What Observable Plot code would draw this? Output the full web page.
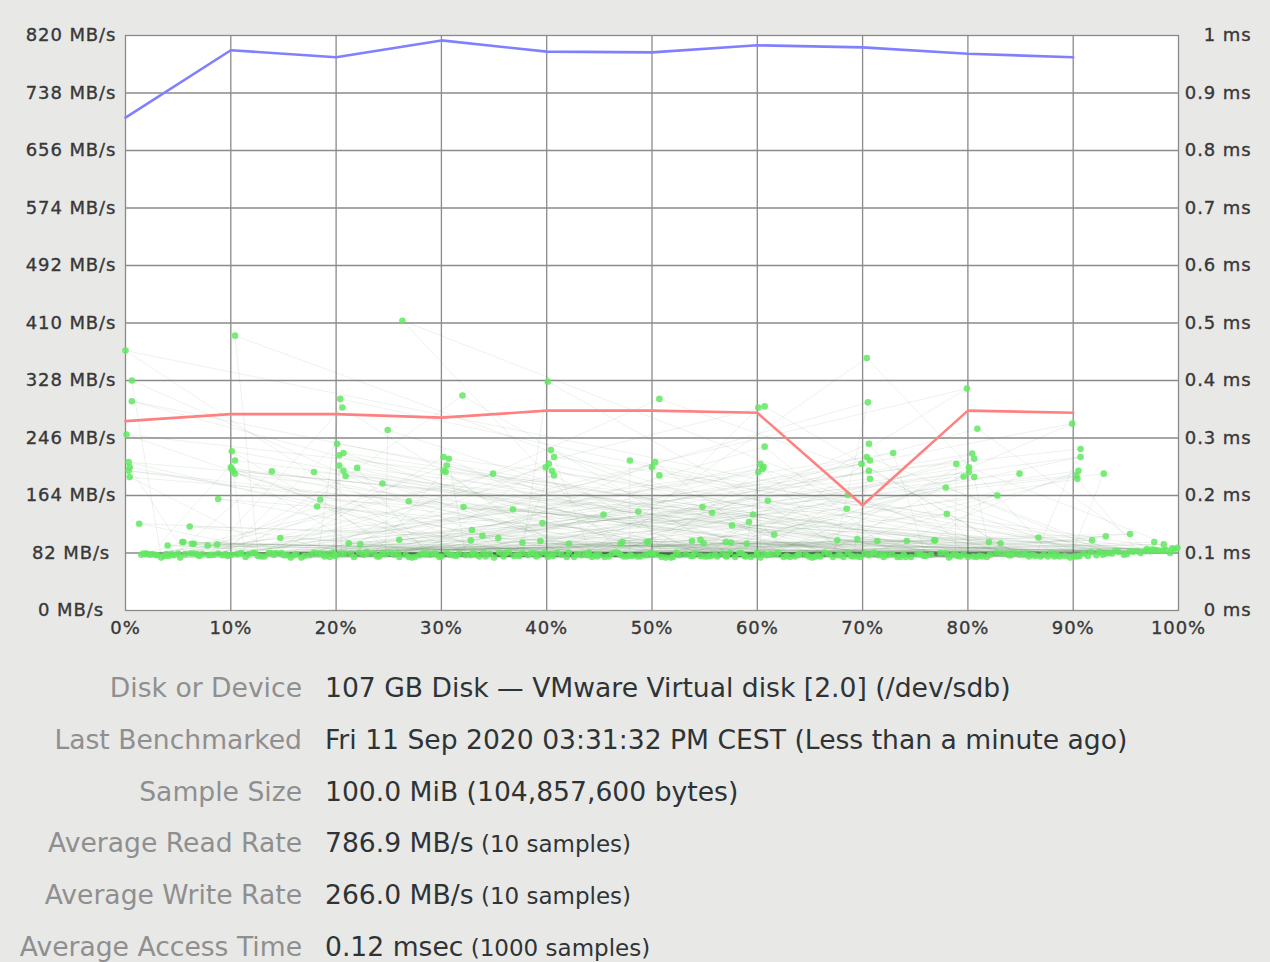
<!DOCTYPE html>
<html><head><meta charset="utf-8">
<script src="https://cdn.jsdelivr.net/npm/d3@7"></script>
<script src="https://cdn.jsdelivr.net/npm/@observablehq/plot@0.6"></script>
<style>
html,body{margin:0;padding:0;background:#e8e8e7;width:1270px;height:962px;overflow:hidden;}
#chart{position:absolute;left:0;top:0;}
#chart text{letter-spacing:0.9px;}
.row{position:absolute;left:0;width:1270px;height:52px;line-height:52px;font-family:"DejaVu Sans",sans-serif;white-space:nowrap;}
.lab{position:absolute;right:968px;color:#8f8f8f;font-size:26.6px;}
.val{position:absolute;left:325px;color:#2e3436;font-size:26.6px;}
.small{font-size:23px;}
</style></head>
<body>
<div id="chart"></div>
<div id="info"></div>
<script>
// ---- data ----
const offsets = [0,10,20,30,40,50,60,70,80,90];            // % of disk
const readRate  = [703,799,789,813,797,796,806,803,794,789]; // MB/s
const writeRate = [270,280,280,275,285,285,282,150,285,282]; // MB/s

const leftTicks = [0,82,164,246,328,410,492,574,656,738,820]; // MB/s
const rightTicks = [0,0.1,0.2,0.3,0.4,0.5,0.6,0.7,0.8,0.9,1]; // ms
const xTicks = [0,10,20,30,40,50,60,70,80,90,100];

// access-time samples that sit in the main band (position %, ms)
const bandPct = [
1.5,47.3,83.2,12.6,66.4,29.8,95.1,38.2,3.4,71.9,
55.6,18.3,88.7,42.1,7.9,62.5,24.7,99.2,33.6,77.4,
9.2,51.8,86.1,20.5,68.9,36.4,97.3,44.8,5.7,74.6,
58.3,15.1,91.4,27.2,64.0,2.3,80.5,49.9,31.1,93.7,
11.4,70.2,40.6,85.3,22.9,57.1,4.6,96.4,35.0,61.8,
19.7,79.0,45.5,8.4,67.7,28.6,90.1,53.2,13.8,75.8,
39.3,98.5,26.0,59.9,6.2,82.7,48.1,16.7,72.8,34.2,
94.3,52.6,21.4,87.6,43.7,1.9,65.2,30.5,81.1,57.9,
10.6,69.5,37.7,92.8,17.5,60.3,46.2,4.1,84.4,25.5,
73.3,50.4,14.3,96.9,32.3,63.6,8.8,78.2,41.4,89.2,
23.6,56.2,2.8,71.1,44.3,99.6,27.9,66.8,12.1,86.9,
36.9,54.1,6.8,81.8,19.1,47.9,93.1,30.0,62.0,15.7,
76.5,40.1,97.8,23.0,58.8,3.9,85.8,49.3,11.0,68.2,
33.0,90.6,45.0,7.3,74.1,28.2,60.9,18.9,95.7,51.3,
13.2,79.6,38.8,65.7,2.0,87.2,42.6,22.2,70.6,55.0,
98.1,26.6,63.1,9.7,83.7,35.5,48.6,16.2,92.2,58.5,
5.2,73.9,31.7,88.2,44.0,20.0,67.2,53.7,14.8,97.0,
37.2,61.3,24.1,80.0,46.8,10.1,76.0,29.3,94.8,41.9,
57.4,17.0,84.9,34.6,69.1,3.0,91.0,50.9,25.9,63.9,
12.9,78.8,43.3,99.9,21.7,56.7,7.0,82.1,39.8,66.0,
28.9,93.4,52.0,15.4,75.2,35.9,60.0,1.7,86.4,47.0,
19.4,70.9,32.8,96.1,45.9,11.7,64.6,24.4,89.7,54.6,
6.5,81.4,40.4,72.3,17.9,59.4,30.8,98.8,48.9,13.6,
67.9,27.5,85.5,37.4,4.4,77.9,55.3,22.6,92.5,44.6,
9.5,62.8,34.0,79.3,50.1,18.6,95.4,26.9,71.5,41.0,
58.9,14.1,87.9,31.4,65.4,2.5,83.9,46.5,20.8,99.4,
36.1,73.6,8.1,53.9,28.4,90.4,42.9,16.0,68.6,61.1,
97.5,23.9,49.6,5.0,80.8,33.3,57.0,12.3,75.5,39.0,
88.4,52.3,19.9,64.9,29.5,94.0,43.9,10.9,72.0,56.0,
3.7,84.1,38.5,69.8,25.2,91.7,47.6,15.0,78.5,60.6];
const bandMs = [
.097,.094,.099,.095,.101,.093,.098,.096,.092,.097,
.095,.099,.094,.101,.096,.093,.098,.100,.094,.100,
.096,.092,.097,.099,.095,.101,.103,.094,.098,.093,
.100,.096,.095,.092,.098,.097,.094,.101,.096,.099,
.093,.099,.095,.097,.102,.094,.096,.100,.092,.098,
.101,.095,.093,.097,.096,.099,.094,.098,.100,.095,
.097,.104,.093,.096,.099,.101,.095,.092,.098,.094,
.102,.096,.099,.094,.097,.098,.092,.101,.095,.093,
.098,.094,.100,.097,.096,.092,.099,.095,.101,.097,
.093,.098,.100,.103,.096,.094,.099,.092,.097,.095,
.099,.094,.097,.101,.093,.106,.096,.098,.100,.094,
.095,.100,.098,.093,.097,.096,.099,.094,.101,.092,
.097,.093,.105,.099,.095,.098,.094,.096,.100,.093,
.101,.095,.097,.098,.093,.099,.096,.094,.102,.092,
.094,.098,.100,.095,.099,.097,.093,.101,.096,.094,
.104,.097,.093,.095,.099,.101,.094,.098,.096,.100,
.092,.097,.099,.094,.101,.096,.093,.095,.100,.107,
.096,.098,.094,.093,.100,.097,.095,.099,.097,.093,
.101,.095,.097,.098,.094,.096,.099,.093,.100,.097,
.094,.098,.096,.109,.093,.099,.095,.097,.101,.094,
.097,.100,.093,.096,.098,.094,.101,.099,.095,.097,
.093,.099,.096,.103,.094,.098,.097,.100,.092,.095,
.099,.094,.098,.096,.101,.093,.097,.105,.094,.100,
.096,.093,.099,.095,.098,.100,.094,.097,.102,.096,
.098,.095,.101,.094,.097,.099,.103,.093,.096,.100,
.094,.097,.100,.095,.093,.098,.096,.101,.099,.108,
.100,.093,.097,.095,.099,.094,.098,.096,.101,.097,
.106,.094,.096,.099,.093,.097,.095,.100,.098,.094,
.097,.101,.095,.094,.098,.104,.096,.099,.093,.097,
.095,.096,.099,.093,.100,.102,.094,.097,.096,.098];

// access-time samples above the band (position %, ms)
const outPct = [
26.3,10.4,0.0,0.6,0.6,20.4,20.6,24.9,0.1,20.1,20.7,20.3,0.3,0.4,0.3,0.4,
10.1,10.4,10.0,10.2,10.4,10.1,13.9,17.9,20.3,20.7,20.9,22.0,24.4,8.8,18.5,18.2,
26.9,1.3,6.1,14.7,26.0,5.4,6.5,32.0,40.1,50.7,60.1,60.7,60.7,30.2,30.7,30.5,
30.4,30.2,34.9,40.4,40.7,39.9,40.5,40.7,40.2,47.9,50.3,50.0,50.7,60.3,60.5,60.1,
60.6,32.1,36.8,39.6,45.4,48.7,54.8,55.7,61.0,57.6,59.2,59.6,61.6,32.9,33.9,35.4,
32.8,70.4,70.5,79.9,80.9,89.9,70.6,72.9,70.4,70.7,69.9,70.6,70.7,80.4,80.6,78.9,
80.1,79.6,80.6,80.1,77.9,84.9,82.8,90.7,90.7,90.5,90.4,90.3,92.9,68.5,78.0,95.4,
68.6,69.5,71.4,74.2,76.8,67.6,54.6,49.5,47.0,57.0,59.0,4.0,5.5,6.3,7.8,8.7,
21.2,22.3,93.1,91.8,86.7,76.9,97.7,98.6,82.0,83.1,37.7,39.4,42.1,47.2,49.7,53.8,
54.9,57.5];
const outMs = [
.504,.478,.452,.400,.364,.368,.353,.314,.306,.290,.274,.270,.258,.249,.243,.232,
.277,.261,.249,.243,.238,.246,.242,.241,.252,.243,.234,.248,.221,.194,.193,.181,
.190,.151,.146,.126,.123,.119,.116,.374,.398,.368,.353,.355,.285,.267,.264,.252,
.241,.243,.238,.279,.267,.249,.243,.235,.255,.261,.258,.249,.235,.255,.246,.241,
.250,.180,.176,.152,.167,.172,.180,.170,.191,.148,.154,.167,.132,.140,.130,.126,
.122,.439,.362,.386,.316,.325,.290,.274,.267,.261,.255,.243,.229,.273,.264,.255,
.249,.233,.232,.241,.214,.238,.200,.281,.267,.243,.229,.235,.238,.177,.168,.133,
.201,.124,.121,.121,.122,.122,.123,.119,.116,.119,.116,.113,.119,.116,.113,.115,
.117,.115,.129,.122,.127,.122,.119,.115,.119,.117,.118,.121,.116,.119,.120,.121,
.117,.118];

// ---- build tables ----
const scaleMs = 820; // 1 ms on the right axis == 820 MB/s on the left axis
const rw = offsets.map((o,i)=>({o, read: readRate[i], write: writeRate[i]}));
const samples = [];
let oi = 0;
for (let i = 0; i < bandPct.length; i++) {
  samples.push({pct: bandPct[i], ms: bandMs[i]});
  if (i % 2 === 1 && oi < outPct.length) { samples.push({pct: outPct[oi], ms: outMs[oi]}); oi++; }
}
while (oi < outPct.length) { samples.push({pct: outPct[oi], ms: outMs[oi]}); oi++; }

const grid = "#8a8a8a";
const txt = "#383838";
const chart = Plot.plot({
  width: 1270, height: 645,
  marginLeft: 125, marginRight: 92, marginTop: 35, marginBottom: 35,
  x: {domain: [0,100], axis: null},
  y: {domain: [0,820], axis: null},
  style: {background: "transparent", fontFamily: "DejaVu Sans, sans-serif", fontSize: "18px", color: txt},
  marks: [
    Plot.frame({fill: "white", stroke: null}),
    Plot.gridX(xTicks.slice(1,-1), {stroke: grid, strokeOpacity: 1, strokeWidth: 1.3}),
    Plot.gridY(leftTicks.slice(1,-1), {stroke: grid, strokeOpacity: 1, strokeWidth: 1.3}),
    Plot.frame({stroke: grid, strokeWidth: 1.3}),
    Plot.line(samples, {x: "pct", y: d => d.ms*scaleMs, stroke: "#3d6b3d", strokeOpacity: 0.09, strokeWidth: 1}),
    Plot.dot(samples, {x: "pct", y: d => d.ms*scaleMs, r: 3.3, fill: "#62e862", fillOpacity: 0.85, stroke: null}),
    Plot.line(rw, {x: "o", y: "read", stroke: "#8080ff", strokeWidth: 2.6}),
    Plot.line(rw, {x: "o", y: "write", stroke: "#ff8080", strokeWidth: 2.6}),
    Plot.text(leftTicks, {y: d => d, text: d => `${d} MB/s`, frameAnchor: "left", dx: -54.5, textAnchor: "middle", fill: txt, stroke: txt, strokeWidth: 0.35}),
    Plot.text(rightTicks, {y: d => d*scaleMs, text: d => `${+d.toFixed(1)} ms`, frameAnchor: "right", dx: 73, textAnchor: "end", fill: txt, stroke: txt, strokeWidth: 0.35}),
    Plot.text(xTicks, {x: d => d, text: d => `${d}%`, frameAnchor: "bottom", dy: 18, lineAnchor: "middle", fill: txt, stroke: txt, strokeWidth: 0.35})
  ]
});
document.getElementById("chart").append(chart);

// ---- info table ----
const infoLabels = ["Disk or Device","Last Benchmarked","Sample Size","Average Read Rate","Average Write Rate","Average Access Time"];
const infoValues = ["107 GB Disk — VMware Virtual disk [2.0] (/dev/sdb)","Fri 11 Sep 2020 03:31:32 PM CEST (Less than a minute ago)","100.0 MiB (104,857,600 bytes)","786.9 MB/s","266.0 MB/s","0.12 msec"];
const infoNotes = ["","","","(10 samples)","(10 samples)","(1000 samples)"];
const info = document.getElementById("info");
infoLabels.forEach((l,i) => {
  const row = document.createElement("div");
  row.className = "row";
  row.style.top = (662 + i*51.8) + "px";
  const a = document.createElement("span"); a.className = "lab"; a.textContent = l;
  const b = document.createElement("span"); b.className = "val"; b.textContent = infoValues[i];
  if (infoNotes[i]) { const s = document.createElement("span"); s.className = "small"; s.textContent = " " + infoNotes[i]; b.append(s); }
  row.append(a, b);
  info.append(row);
});
</script>
</body></html>
